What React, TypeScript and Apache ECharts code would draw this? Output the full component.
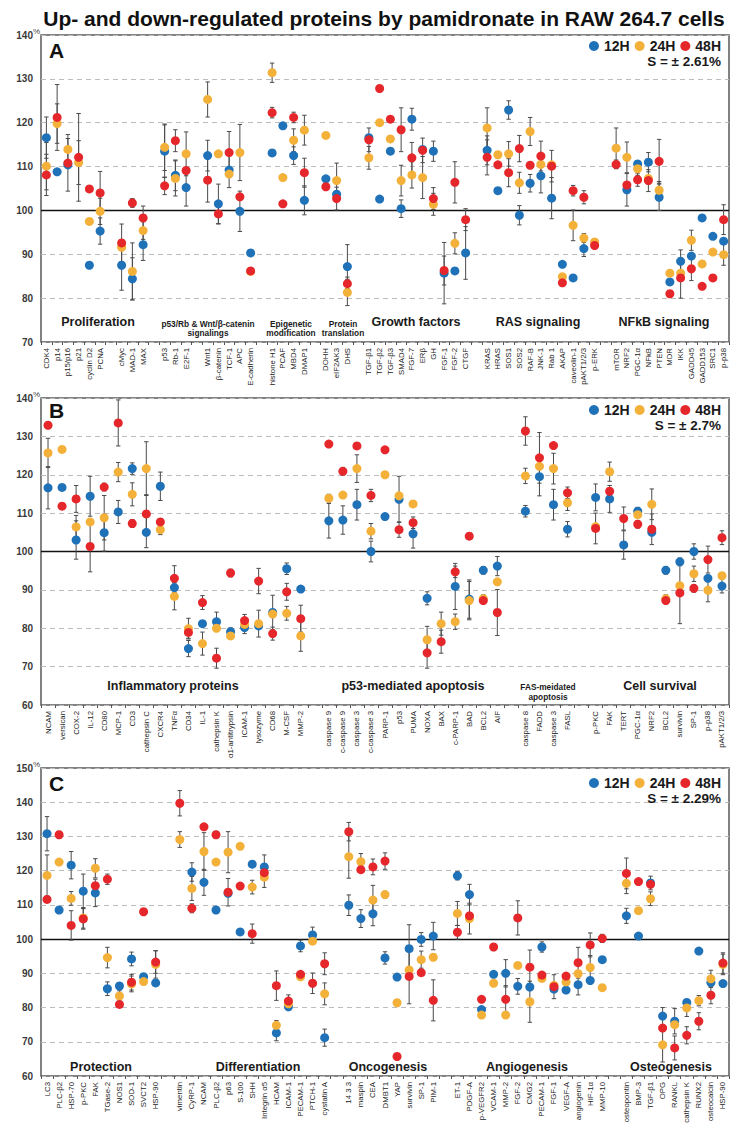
import React, { useEffect, useRef } from "react";
import * as echarts from "echarts";

const FONT = '"Liberation Sans", Arial, sans-serif';
const COLORS = ["#1f71b8", "#f4b13a", "#e5262b"];
const SERIES_NAMES = ["12H", "24H", "48H"];
const TITLE = "Up- and down-regulated proteins by pamidronate in RAW 264.7 cells";

// ---------------- Panel A ----------------
const catsA = [
  "CDK4", "p14", "p15/p16", "p21", "cyclin D2", "PCNA", "",
  "cMyc", "MAD-1", "MAX", "",
  "p53", "Rb-1", "E2F-1", "",
  "Wnt1", "β-catenin", "TCF-1", "APC", "E-cadherin", "",
  "histone H1", "PCAF", "MBD4", "DMAP1", "",
  "DOHH", "eIF2AK3", "DHS", "",
  "TGF-β1", "TGF-β2", "TGF-β3", "SMAD4", "FGF-7", "ERβ", "GH", "FGF-1", "FGF-2", "CTGF", "",
  "KRAS", "HRAS", "SOS1", "SOS2", "RAF-B", "JNK-1", "Rab 1", "AKAP", "caveolin-1", "pAKT1/2/3", "p-ERK", "",
  "mTOR", "NRF2", "PGC-1α", "NFkB", "PTEN", "MDR", "IKK", "GADD45", "GADD153", "SRC1", "p-p38",
];
const a12 = [
  116.6, 108.8, 110.4, null, 87.5, 95.3, null,
  87.5, 84.4, 92.2, null,
  113.5, 108.0, 105.2, null,
  112.5, 101.5, 109.2, 99.8, 90.3, null,
  113.1, 119.3, 112.5, 102.3, null,
  107.2, 103.7, 87.2, null,
  116.6, 102.6, 113.5, 100.4, 120.8, 113.9, 113.5, 85.7, 86.2, 90.3, null,
  113.7, 104.5, 122.9, 98.9, 106.2, 107.9, 102.8, 87.7, 84.6, 91.3, null, null,
  null, 104.7, 110.6, 111.0, 103.0, 83.7, 88.4, 89.6, 98.3, 94.1, 93.0,
];
const a24 = [
  110.1, 119.8, 113.9, 110.9, 97.5, 99.8, null,
  91.6, 86.1, 95.4, null,
  114.4, 107.3, 112.9, null,
  125.3, 112.9, 108.3, 113.2, 86.1, null,
  131.4, 107.5, 116.0, 118.3, null,
  117.1, 106.8, 81.3, null,
  112.0, 120.0, 116.3, 106.8, 108.1, 107.5, 101.4, null, 92.5, null, null,
  118.8, 112.7, 112.9, 106.3, 118.0, 110.5, 110.4, 84.9, 96.6, 93.7, 92.8, null,
  114.2, 112.1, 109.5, 107.3, 104.6, 85.7, 85.7, 93.2, 87.8, 90.5, 89.9,
];
const a48 = [
  108.1, 121.2, 110.8, 112.1, 104.9, 104.0, null,
  92.6, 101.7, 98.3, null,
  105.6, 115.9, 109.1, null,
  106.9, 99.2, 113.2, 103.1, 86.2, null,
  122.3, 101.5, 121.2, 108.6, null,
  105.4, 102.7, 83.3, null,
  116.1, 127.8, 120.8, 118.4, 112.0, 113.7, 102.7, 86.3, 106.4, 97.9, null,
  112.1, 110.4, 108.6, 114.1, 110.3, 112.4, 110.1, 83.5, 104.5, 103.0, 92.0, null,
  110.5, 105.8, 107.0, 106.8, 111.2, 81.0, 84.6, 86.7, 82.7, 84.6, 97.9,
];
const a12err = [
  4.7, 0, 6, 0, 0, 3, 0,
  5.7, 4.8, 3.6, 0,
  6, 3.5, 4.2, 0,
  3.5, 4.5, 4, 4.6, 0, 0,
  0, 0, 2, 3.3, 0,
  0, 0, 5, 0,
  0, 0, 0, 2, 2.5, 0, 2.3, 7, 0, 6, 0,
  3.3, 0, 2.1, 2.2, 2, 3.9, 4.7, 0, 0, 1.8, 0, 0,
  0, 3.7, 0, 2.2, 3, 0, 2.6, 0, 0, 0, 0,
];
const a24err = [
  5.4, 4.5, 3.4, 5, 0, 3, 0,
  0, 6.5, 2, 0,
  5.3, 4, 5, 0,
  4, 0, 0, 6.4, 0, 0,
  2.2, 0, 2.6, 3.4, 0,
  0, 4, 3, 0,
  2.6, 0, 0, 3.5, 3, 4.8, 2.5, 0, 2.4, 0, 0,
  4.6, 0, 2.8, 2.4, 3.2, 0, 0, 0, 3.5, 1, 0, 0,
  4.6, 3.5, 1.5, 0, 2, 0, 0, 2.3, 0, 0, 2.4,
];
const a48err = [
  4.7, 7.5, 0, 10, 0, 4.9, 0,
  4.3, 1, 2.7, 0,
  2, 2.5, 0, 0,
  5, 2.3, 4.8, 0, 0, 0,
  1.2, 0, 1.2, 3.3, 0,
  0, 2.6, 1.5, 0,
  2.7, 0, 0, 5, 3.5, 2.8, 2.5, 3.3, 4.7, 2.5, 0,
  4, 0, 3.2, 3, 0, 3.4, 3.6, 0, 1.2, 1.5, 0, 0,
  1, 0, 1.5, 2.5, 5, 0, 4.6, 2.7, 0, 0, 3.4,
];
const groupsA = [
  { text: "Proliferation", x: 98, small: false },
  { text: "p53/Rb & Wnt/β-catenin\nsignalings", x: 208, small: true },
  { text: "Epigenetic\nmodification", x: 291, small: true },
  { text: "Protein\ntranslation", x: 343, small: true },
  { text: "Growth factors", x: 416, small: false },
  { text: "RAS signaling", x: 538, small: false },
  { text: "NFkB signaling", x: 664, small: false },
];

// ---------------- Panel B ----------------
const catsB = [
  "NCAM", "versican", "COX-2", "IL-12", "CD80", "MCP-1", "CD3", "cathepsin C", "CXCR4",
  "TNFα", "CD34", "IL-1", "cathepsin K", "α1-antitrypsin", "ICAM-1", "lysozyme", "CD68", "M-CSF", "MMP-2", "",
  "caspase 9", "c-caspase 9", "caspase 3", "c-caspase 3", "PARP-1", "p53", "PUMA", "NOXA", "BAX", "c-PARP-1", "BAD", "BCL2", "AIF", "",
  "caspase 8", "FADD", "caspase 3", "FASL", "",
  "p-PKC", "FAK", "TERT", "PGC-1α", "NRF2", "BCL2", "survivin", "SP-1", "p-p38", "pAKT1/2/3",
];
const b12 = [
  116.6, 116.7, 103.0, 114.4, 104.9, 110.3, 121.6, 105.0, 117.0,
  90.6, 74.7, 81.2, 81.7, 79.1, 80.2, 80.6, 84.1, 95.5, 90.2, null,
  108.0, 108.2, 112.2, 100.0, 109.1, 113.6, 104.6, 87.8, null, 90.9, 87.6, 95.1, 96.2, null,
  110.5, 119.5, 112.2, 105.8, null,
  114.1, 113.7, 101.7, 110.5, 105.0, 95.1, 97.3, 100.0, 93.0, 91.0,
];
const b24 = [
  125.7, 126.6, 106.4, 107.7, 108.8, 120.7, 114.9, 121.6, 105.7,
  88.3, 79.9, 76.0, 80.0, 78.0, 81.0, 81.2, 83.7, 83.9, 78.0, null,
  113.9, 114.7, 121.6, 105.3, 120.0, 114.5, 112.4, 77.0, 81.2, 81.7, 87.2, 87.7, 92.1, null,
  119.7, 122.2, 121.6, 112.7, null,
  106.5, 120.8, null, 109.6, 112.3, 87.7, 91.1, 94.2, 89.9, 93.7,
];
const b48 = [
  132.9, 111.8, 113.7, 101.3, 116.8, 133.5, 107.3, 109.8, 107.7,
  93.0, 78.9, 86.7, 72.2, 94.4, 82.0, 92.3, 78.6, 89.5, 82.5, null,
  128.0, 120.9, 127.5, 114.6, 126.5, 105.7, 107.5, 73.6, 76.5, 94.7, 104.0, 87.2, 84.1, null,
  131.4, 124.4, 127.6, 115.3, null,
  106.0, 115.7, 108.6, 107.1, 105.8, 87.2, 89.2, 90.4, 97.9, 103.6,
];
const b12err = [
  5.5, 0, 5, 5.2, 4.8, 3, 1.5, 4, 3.7,
  1.3, 2.1, 0, 2.5, 1, 1.6, 0, 4.5, 1.5, 0.8, 0,
  4.5, 3.7, 4, 2.7, 0, 6, 3.7, 1.7, 0, 6, 5, 1, 2.5, 0,
  1.5, 5, 4, 2, 0,
  3.5, 3.5, 3.7, 1, 0, 1, 1, 2, 0, 1.8,
];
const b24err = [
  3.8, 0, 3, 0, 5.8, 2.5, 3, 7, 1.3,
  3.5, 2.7, 3, 0, 0.8, 0, 3.5, 0, 1.8, 4, 0,
  1, 0, 3.6, 2, 0, 0, 0, 3.5, 3, 2, 5, 1, 0, 0,
  2, 0, 4, 2, 0,
  0, 2.5, 0, 0, 4, 1, 0, 2, 3, 0,
];
const b48err = [
  0, 0, 3.5, 6.6, 1, 6, 1, 5, 0,
  3.3, 1.5, 1.8, 2.6, 1, 1.6, 3.3, 1.7, 2.2, 3.5, 0,
  0, 1, 0, 1.6, 0, 2, 1.5, 4, 3, 1.5, 0, 0, 6, 0,
  3.7, 6.6, 0, 1.5, 0,
  4, 0, 3, 1, 4, 0, 8, 1, 3.5, 1.8,
];
const groupsB = [
  { text: "Inflammatory proteins", x: 173, small: false },
  { text: "p53-mediated apoptosis", x: 413, small: false },
  { text: "FAS-meidated\napoptosis", x: 548, small: true },
  { text: "Cell survival", x: 660, small: false },
];

// ---------------- Panel C ----------------
const catsC = [
  "LC3", "PLC-β2", "HSP-70", "p-PKC", "FAK", "TGase-2", "NOS1", "SOD-1", "SVCT2", "HSP-90", "",
  "vimentin", "CyRP-1", "NCAM", "PLC-β2", "p63", "S-100", "SHH", "Integrin α5", "HCAM", "ICAM-1", "PECAM-1", "PTCH-1", "cystatin A", "",
  "14 3 3", "maspin", "CEA", "DMBT1", "YAP", "survivin", "SP-1", "PIM-1", "",
  "ET-1", "PDGF-A", "p-VEGFR2", "VCAM-1", "MMP-2", "FGF-2", "CMG2", "PECAM-1", "FGF-1", "VEGF-A", "angiogenin", "HIF-1α", "MMP-10", "",
  "osteopontin", "BMP-3", "TGF-β1", "OPG", "RANKL", "cathepsin K", "RUNX2", "osteocalcin", "HSP-90",
];
const c12 = [
  130.8, 108.5, 121.6, 114.0, 113.5, 85.5, 86.3, 94.2, 89.0, 87.2, null,
  null, 119.6, 116.6, 108.5, 113.4, 102.1, 121.9, 121.1, 72.6, 80.2, 98.0, 101.2, 71.2, null,
  109.9, 106.0, 107.4, 94.5, 88.9, 97.2, 99.9, 100.9, null,
  118.5, 113.0, 79.4, 89.7, 90.0, 86.2, 86.0, 97.7, 85.4, 85.1, 86.7, 87.9, 94.0, null,
  106.8, 100.9, 116.4, 77.5, 76.0, 81.5, 96.5, 87.3, 87.0,
];
const c24 = [
  118.6, 122.5, 111.9, 106.2, 120.7, 94.6, 83.4, 86.9, 87.6, 92.6, null,
  129.1, 114.8, 125.6, 122.5, 125.4, 127.1, 115.2, 118.1, 74.8, 81.1, 89.0, 99.4, 84.0, null,
  124.1, 122.6, 111.4, 113.0, 81.4, 91.0, 94.0, 94.7, null,
  107.5, 106.0, 77.8, 87.1, 77.8, 92.3, 81.7, 88.5, 86.5, 87.5, 89.9, 91.7, 85.8, null,
  116.3, 108.3, 111.8, 69.1, 75.0, 79.9, 82.0, 88.4, 92.6,
];
const c48 = [
  111.6, 130.5, 104.0, 105.9, 115.6, 117.5, 80.9, 87.4, 108.0, 93.3, null,
  139.7, 109.0, 132.8, 130.5, 113.7, 115.5, 101.6, 119.4, 86.4, 81.9, 89.7, 87.1, 92.8, null,
  131.4, 120.3, 121.1, 122.8, 65.7, 89.1, 90.2, 82.1, null,
  102.0, 106.8, 82.4, 97.7, 82.4, 106.2, 91.8, 89.5, 86.1, 89.2, 93.1, 98.3, 100.2, null,
  119.2, 116.8, 116.0, 74.0, 68.2, 71.9, 76.0, 83.6, 93.0,
];
const c12err = [
  5, 0, 4, 5, 4, 2, 0, 2, 0, 0, 0,
  0, 2.7, 3.8, 0, 0, 0, 0, 3.5, 2.3, 0, 1.7, 2.3, 2.5, 0,
  3, 2.6, 3.5, 1.8, 0, 7, 2, 4, 0,
  1.2, 3, 0, 0, 4, 2.3, 0, 1.5, 0, 0, 3, 0, 0, 0,
  2.2, 0, 2, 2.5, 3.7, 0, 0, 0, 0,
];
const c24err = [
  6, 0, 2, 3, 2.8, 3, 1.5, 2.3, 0, 4, 0,
  2.3, 3.5, 5.5, 0, 6, 0, 2, 3, 1.4, 0, 0, 0, 3.2, 0,
  6.3, 2.4, 4.3, 1, 0, 0, 2.5, 0, 0,
  3.5, 4.5, 0, 0, 1, 0, 6, 0, 0, 0, 0, 3.5, 0, 0,
  3, 0, 2, 5, 0, 2.5, 1.5, 2.5, 3,
];
const c48err = [
  0.8, 1, 4.3, 3, 0, 1.5, 0, 2.3, 0, 3.3, 0,
  3.7, 1.3, 0, 1, 4, 0, 2.8, 0, 4.3, 1.8, 0, 3, 3.2, 0,
  2.7, 0, 2.3, 2.4, 0, 8, 0, 6, 0,
  2, 0, 0, 0, 4, 5, 5, 0, 3.5, 0, 4.5, 3.5, 1.2, 0,
  4.5, 0, 0, 0, 3.5, 2.5, 2.5, 2.5, 3,
];
const groupsC = [
  { text: "Protection", x: 101, small: false },
  { text: "Differentiation", x: 258, small: false },
  { text: "Oncogenesis", x: 388, small: false },
  { text: "Angiogenesis", x: 527, small: false },
  { text: "Osteogenesis", x: 671, small: false },
];

// ---------------- layout ----------------
const GRID_LEFT = 41;
const GRID_W = 688;
const panels = [
  { cats: catsA, vals: [a12, a24, a48], errs: [a12err, a24err, a48err], min: 70, max: 140, top: 35, h: 307,
    letter: "A", letterDy: 15, s: "S = ± 2.61%", groups: groupsA, bigDy: 20, smallDy: 13.5, legendY: 46 },
  { cats: catsB, vals: [b12, b24, b48], errs: [b12err, b24err, b48err], min: 60, max: 140, top: 398, h: 307,
    letter: "B", letterDy: 12, s: "S = ± 2.7%", groups: groupsB, bigDy: 19, smallDy: 13, legendY: 410 },
  { cats: catsC, vals: [c12, c24, c48], errs: [c12err, c24err, c48err], min: 60, max: 150, top: 768, h: 308,
    letter: "C", letterDy: 15, s: "S = ± 2.29%", groups: groupsC, bigDy: 9, smallDy: 9, legendY: 783 },
];

function txt(text: string, x: number, y: number, size: number, weight: string, align: string, vAlign: string, fill = "#1a1a1a", lineHeight?: number) {
  return {
    type: "text",
    silent: true,
    z: 50,
    style: {
      text, x, y,
      fontSize: size, fontWeight: weight, fontFamily: FONT,
      fill,
      align, verticalAlign: vAlign,
      textAlign: align, textVerticalAlign: vAlign,
      lineHeight: lineHeight || Math.round(size * 1.1),
    },
  };
}

function buildOption() {
  const grid: any[] = [];
  const xAxis: any[] = [];
  const yAxis: any[] = [];
  const series: any[] = [];
  const legend: any[] = [];
  const graphic: any[] = [];

  graphic.push(txt(TITLE, 384, 18, 21, "bold", "center", "middle", "#111"));

  panels.forEach((p, k) => {
    grid.push({
      left: GRID_LEFT, width: GRID_W, top: p.top, height: p.h,
      show: true, borderColor: "#5a5a5a", borderWidth: 1.5, backgroundColor: "transparent",
    });
    // unique names for empty gap slots (the label itself stays blank)
    const names = p.cats.map((c, i) => (c === "" ? "\u200b".repeat(i + 1) : c));
    xAxis.push({
      type: "category", gridIndex: k, data: names, boundaryGap: true,
      axisLine: { show: false },
      axisTick: { show: true, interval: 0, length: 3, lineStyle: { color: "#555", width: 1 } },
      axisLabel: {
        interval: 0, rotate: 90, fontSize: 7.8, color: "#222", margin: 6, fontFamily: FONT,
        formatter: (v: string) => v.replace(/\u200b/g, ""),
      },
      splitLine: { show: false },
    });
    yAxis.push({
      type: "value", gridIndex: k, min: p.min, max: p.max, interval: 10,
      axisLine: { show: false }, axisTick: { show: false },
      axisLabel: { fontSize: 10, fontWeight: "bold", color: "#3a3a3a", margin: 8, fontFamily: FONT },
      splitLine: { show: true, lineStyle: { color: "#bdbdbd", type: [5, 4], width: 1 } },
    });

    p.vals.forEach((arr, s) => {
      const data = arr.map((v, i) => (v == null ? null : [i, v])).filter((d) => d !== null);
      const ser: any = {
        type: "scatter", name: SERIES_NAMES[s], xAxisIndex: k, yAxisIndex: k,
        data, symbol: "circle", symbolSize: 9, z: 10 + s,
        itemStyle: { color: COLORS[s], opacity: 1 },
        emphasis: { disabled: true },
      };
      if (s === 0) {
        ser.markLine = {
          silent: true, symbol: "none", z: 5,
          label: { show: false },
          lineStyle: { color: "#111", width: 1.3, type: "solid" },
          data: [{ yAxis: 100 }],
        };
      }
      series.push(ser);
    });

    const errData: number[][] = [];
    p.vals.forEach((arr, s) => {
      arr.forEach((v, i) => {
        const e = p.errs[s][i];
        if (v != null && e > 0) errData.push([i, v, e]);
      });
    });
    series.push({
      type: "custom", name: "err" + k, xAxisIndex: k, yAxisIndex: k, z: 8, silent: true,
      data: errData,
      encode: { x: 0, y: 1 },
      renderItem: (params: any, api: any) => {
        const x = api.value(0), v = api.value(1), e = api.value(2);
        const t = api.coord([x, v + e]);
        const b = api.coord([x, v - e]);
        const cap = 2.2;
        const st = { stroke: "#4a4a4a", lineWidth: 1 };
        return {
          type: "group",
          children: [
            { type: "line", shape: { x1: t[0], y1: t[1], x2: b[0], y2: b[1] }, style: st },
            { type: "line", shape: { x1: t[0] - cap, y1: t[1], x2: t[0] + cap, y2: t[1] }, style: st },
            { type: "line", shape: { x1: b[0] - cap, y1: b[1], x2: b[0] + cap, y2: b[1] }, style: st },
          ],
        };
      },
    });

    legend.push({
      data: SERIES_NAMES, right: 28, top: p.legendY - 7, icon: "circle",
      itemWidth: 10, itemHeight: 10, itemGap: 5, selectedMode: false, padding: 0,
      textStyle: { fontSize: 14, fontWeight: "bold", color: "#1a1a1a", fontFamily: FONT, lineHeight: 14 },
    });

    const bottom = p.top + p.h;
    graphic.push(txt(p.s, 721, p.legendY + 15, 13.5, "bold", "right", "middle"));
    graphic.push(txt(p.letter, 49, p.top + p.letterDy, 21, "bold", "left", "middle", "#111"));
    graphic.push(txt("%", 33, p.top - 4, 8, "normal", "left", "middle", "#444"));
    p.groups.forEach((g) => {
      if (g.small) {
        graphic.push(txt(g.text, g.x, bottom - p.smallDy, 8.3, "bold", "center", "middle", "#1a1a1a", 9.5));
      } else {
        graphic.push(txt(g.text, g.x, bottom - p.bigDy, 12.5, "bold", "center", "middle", "#1a1a1a"));
      }
    });
  });

  return {
    animation: false,
    backgroundColor: "#ffffff",
    textStyle: { fontFamily: FONT },
    grid, xAxis, yAxis, series, legend, graphic,
  };
}

export default function App() {
  const ref = useRef<HTMLDivElement>(null);
  useEffect(() => {
    if (!ref.current) return;
    const chart = echarts.init(ref.current, null, { renderer: "svg" });
    chart.setOption(buildOption() as any);
    return () => chart.dispose();
  }, []);
  return (
    <div
      ref={ref}
      style={{ position: "absolute", left: 0, top: 0, width: 749, height: 1130, background: "#fff" }}
    />
  );
}
